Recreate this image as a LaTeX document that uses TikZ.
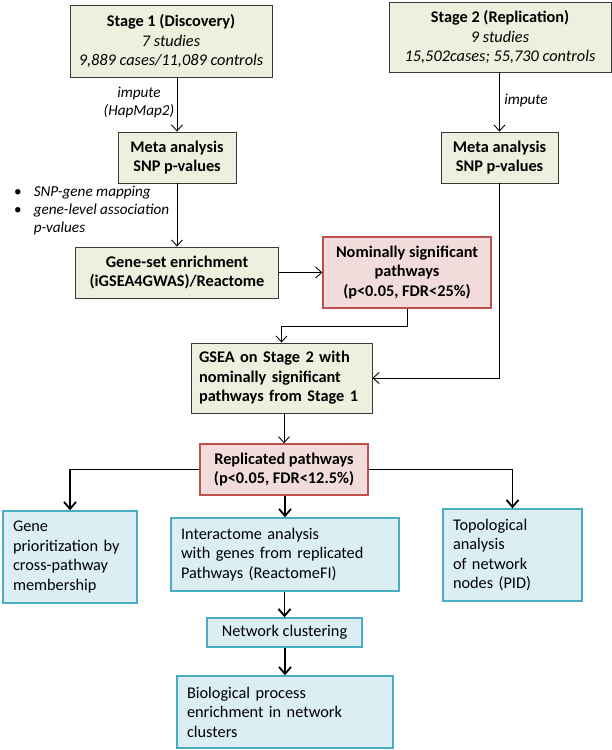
\documentclass[tikz,border=0pt]{standalone}
\usepackage{fontspec}
\setmainfont{Carlito}
\usetikzlibrary{
  arrows.meta,
  positioning
}
\definecolor{stageFill}{HTML}{EBF1DE}
\definecolor{stageLine}{HTML}{3A3A3A}
\definecolor{hitFill}{HTML}{F2DCDB}
\definecolor{hitLine}{HTML}{C0504D}
\definecolor{taskFill}{HTML}{DBEEF4}
\definecolor{taskLine}{HTML}{4BACC6}
\newcommand\boxfont{\fontsize{16.3}{19.5}\selectfont}
\newcommand\notefont{\fontsize{15.2}{18}\selectfont}
\tikzset{
  greenbox/.style={draw=stageLine, fill=stageFill, line width=0.9pt,
    align=center, inner sep=2pt, font=\bfseries\boxfont},
  redbox/.style={draw=hitLine, fill=hitFill, line width=1.4pt,
    align=center, inner sep=2pt, font=\bfseries\boxfont},
  bluebox/.style={draw=taskLine, fill=taskFill, line width=1.4pt,
    align=left, inner xsep=10pt, inner ysep=2pt, font=\boxfont},
  link/.style={-{Straight Barb[length=6pt, width=11pt]}, line width=0.9pt},
  linkthick/.style={-{Straight Barb[length=7pt, width=12pt]}, line width=1.8pt},
  note/.style={font=\itshape\notefont, inner sep=1pt},
}

\begin{document}
\begin{tikzpicture}[x=1pt, y=-1pt]
\useasboundingbox (0,0) rectangle (612,750);

% --- discovery / replication inputs ---
\node[greenbox, minimum width=202pt, minimum height=72pt] (stageA) at (171,41)
  {Stage 1 (Discovery)\\ {\mdseries\itshape 7 studies}\\ {\mdseries\itshape 9,889 cases/11,089 controls}};
\node[greenbox, minimum width=222pt, minimum height=70pt] (stageB) at (500,37)
  {Stage 2 (Replication)\\ {\mdseries\itshape 9 studies}\\ {\mdseries\itshape 15,502cases; 55,730 controls}};

\node[greenbox, minimum width=118pt, minimum height=51pt] (metaA) at (177,157.5)
  {Meta analysis\\ SNP p-values};
\node[greenbox, minimum width=117pt, minimum height=51pt] (metaB) at (499.5,157.5)
  {Meta analysis\\ SNP p-values};

\node[note, align=center] (imputeA) at (139,102) {impute\\ (HapMap2)};
\node[note] (imputeB) at (526,100) {impute};

% bullet notes between meta analysis and enrichment
\node[note, anchor=north west, inner sep=0pt] (mapNote) at (14,184)
  {\begin{tabular}{@{}l@{\hspace{12pt}}l@{}}
   {\upshape\textbullet} & SNP-gene mapping\\
   {\upshape\textbullet} & gene-level association\\
                         & p-values
   \end{tabular}};

% --- enrichment and replication ---
\node[greenbox, minimum width=203pt, minimum height=51pt] (gsEnrich) at (177,272.5)
  {Gene-set enrichment\\ (iGSEA4GWAS)/Reactome};
\node[redbox, minimum width=168pt, minimum height=71pt] (nomSig) at (407,272.5)
  {Nominally significant\\ pathways\\ (p<0.05, FDR<25\%)};
\node[greenbox, align=left, text width=165pt, inner xsep=8pt,
      minimum height=70pt] (gseaB) at (281.5,378)
  {GSEA on Stage 2 with\\ nominally significant\\ pathways from Stage 1};
\node[redbox, minimum width=168pt, minimum height=51pt] (repPath) at (284,469.5)
  {Replicated pathways\\ (p<0.05, FDR<12.5\%)};

% --- follow-up analyses ---
\node[bluebox, text width=114pt, minimum height=92pt] (genePrio) at (70,557)
  {Gene\\ prioritization by\\ cross-pathway\\ membership};
\node[bluebox, text width=208pt, minimum height=73pt] (interact) at (285,554.5)
  {Interactome analysis\\ with genes from replicated\\ Pathways (ReactomeFI)};
\node[bluebox, text width=119pt, minimum height=92pt] (topoNodes) at (512.5,555)
  {Topological\\ analysis\\ of network\\ nodes (PID)};
\node[bluebox, align=center, inner xsep=2pt, minimum width=155pt,
      minimum height=29pt] (netClust) at (284.5,632.5) {Network clustering};
\node[bluebox, text width=196pt, minimum height=72pt] (bioProc) at (285,712)
  {Biological process\\ enrichment in network\\ clusters};

% thin connectors
\draw[link] (stageA.south -| metaA.north) -- (metaA.north);
\draw[link] (stageB.south -| metaB.north) -- (metaB.north);
\draw[link] (metaA.south) -- (gsEnrich.north);
\draw[link] (gsEnrich.east) -- (nomSig.west);
\draw[link] (nomSig.south) -- ++(0,18) -| (gseaB.north);
\draw[link] (metaB.south) |- (gseaB.east);
\draw[link] (gseaB.south -| repPath.north) -- (repPath.north);

% thick connectors
\draw[linkthick] (repPath.west) -| (genePrio.north);
\draw[linkthick] (repPath.east) -| (topoNodes.north);
\draw[linkthick] (repPath.south -| interact.north) -- (interact.north);
\draw[linkthick] (interact.south -| netClust.north) -- (netClust.north);
\draw[linkthick] (netClust.south -| bioProc.north) -- (bioProc.north);
\end{tikzpicture}
\end{document}
